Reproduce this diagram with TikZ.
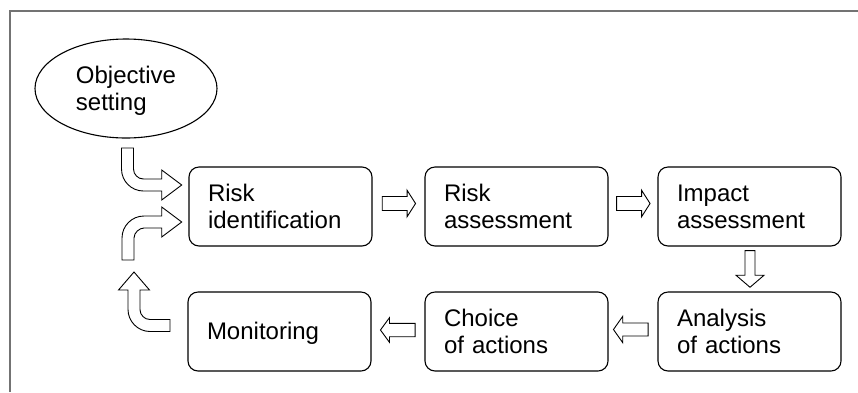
\documentclass[tikz,border=0pt]{standalone}
\usepackage{fontspec}
\setmainfont{Liberation Sans}
\usetikzlibrary{shapes.geometric,calc}
\definecolor{framegray}{RGB}{115,115,115}
\newcommand\mystrut{\rule[-5.1pt]{0pt}{26.8pt}}
\newcommand\mybarrow[6]{%
  \draw[arrowline, shift={#1}, rotate=#2]
    (0,-#4) -- ({#3-#6},-#4) -- ({#3-#6},-#5) -- (#3,0) -- ({#3-#6},#5)
    -- ({#3-#6},#4) -- (0,#4) -- cycle;}
\begin{document}
\begin{tikzpicture}[x=1pt,y=-1pt,
  txt/.style={font=\fontsize{24}{27.6}\selectfont},
  stepbox/.style={txt, draw=black, line width=1.1pt, rounded corners=10pt,
    minimum width=183pt, minimum height=79pt, inner xsep=19pt, inner ysep=0pt,
    text width=145pt, align=left},
  goal/.style={txt, draw=black, line width=1.1pt, ellipse,
    minimum width=182pt, minimum height=99pt, inner sep=0pt, align=left},
  arrowline/.style={draw=black, line width=0.9pt, fill=white, line join=miter}]
\useasboundingbox (0,0) rectangle (858,392);
% frame
\draw[framegray, line width=2pt] (9.5,392) -- (9.5,11) -- (858,11);
% nodes
\node[goal] (obj) at (126,88.5) {\mystrut Objective\\\mystrut setting};
\node[stepbox] (rid) at (280.5,206.5) {\mystrut Risk\\\mystrut identification};
\node[stepbox] (ras) at (516.5,206.5) {\mystrut Risk\\\mystrut assessment};
\node[stepbox] (ias) at (749.5,206.5) {\mystrut Impact\\\mystrut assessment};
\node[stepbox] (aoa) at (749.5,331.5) {\mystrut Analysis\\\mystrut of actions};
\node[stepbox] (coa) at (516.5,331.5) {\mystrut Choice\\\mystrut of actions};
\node[stepbox] (mon) at (279.5,331.5) {\mystrut Monitoring};
% straight block arrows
\mybarrow{($(rid.east)+(9.7,-3)$)}{0}{33.3}{7}{13.3}{8.5}
\mybarrow{($(ras.east)+(8,-3)$)}{0}{33.5}{7}{13.3}{8.5}
\mybarrow{($(ias.south)+(0.5,4)$)}{-90}{36.7}{5}{14}{12}
\mybarrow{($(aoa.west)+(-9.3,-2)$)}{180}{34.7}{6.5}{13.2}{9.3}
\mybarrow{($(coa.west)+(-9.3,-1.5)$)}{180}{34.7}{6.7}{12.3}{9}
% curved block arrow: objective -> risk identification
\draw[arrowline] (121.5,148) -- (133.5,148) -- (133.5,169)
  .. controls (133.5,174.5) and (138,179) .. (143.5,179)
  -- (161.7,179) -- (161.7,170) -- (181.7,185) -- (161.7,200) -- (161.7,191)
  -- (143.5,191) .. controls (131.35,191) and (121.5,181.15) .. (121.5,169)
  -- cycle;
% curved block arrow: loop -> risk identification
\draw[arrowline] (122,260) -- (134,260) -- (134,238)
  .. controls (134,232.5) and (139.5,228) .. (144,228)
  -- (161.7,228) -- (161.7,237) -- (181.7,222) -- (161.7,207) -- (161.7,216)
  -- (144,216) .. controls (131.85,216) and (122,225.85) .. (122,238)
  -- cycle;
% curved block arrow: monitoring -> up
\draw[arrowline] (170,319.5) -- (170,331.5) -- (150,331.5)
  .. controls (137.85,331.5) and (128,321.35) .. (128,309.5)
  -- (128,290) -- (118.5,290) -- (134,272) -- (149.5,290) -- (140,290)
  -- (140,309.5) .. controls (140,315) and (144.5,319.5) .. (150,319.5)
  -- cycle;
\end{tikzpicture}
\end{document}
